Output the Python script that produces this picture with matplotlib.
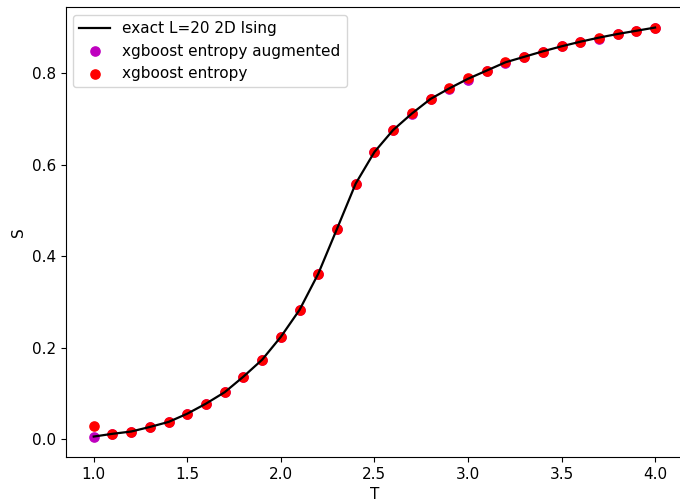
import numpy as np
import matplotlib
matplotlib.use("Agg")
import matplotlib.pyplot as plt

plt.rcParams['font.size'] = 11

# temperatures 1.0 .. 4.0 step 0.1
T = [1.0, 1.1, 1.2, 1.3, 1.4, 1.5, 1.6, 1.7, 1.8, 1.9,
     2.0, 2.1, 2.2, 2.3, 2.4, 2.5, 2.6, 2.7, 2.8, 2.9,
     3.0, 3.1, 3.2, 3.3, 3.4, 3.5, 3.6, 3.7, 3.8, 3.9, 4.0]

# exact entropy, L=20 2D Ising
S_exact = [0.006, 0.012, 0.017, 0.027, 0.038, 0.056, 0.078, 0.103, 0.137, 0.174,
           0.224, 0.283, 0.362, 0.460, 0.559, 0.628, 0.676, 0.712, 0.744, 0.767,
           0.788, 0.806, 0.824, 0.836, 0.848, 0.859, 0.869, 0.878, 0.886, 0.893, 0.900]

# xgboost entropy augmented
S_aug = [0.006, 0.012, 0.017, 0.027, 0.038, 0.056, 0.078, 0.103, 0.137, 0.174,
         0.224, 0.283, 0.362, 0.459, 0.559, 0.628, 0.676, 0.710, 0.744, 0.765,
         0.786, 0.806, 0.823, 0.836, 0.847, 0.859, 0.868, 0.876, 0.885, 0.892, 0.899]

# xgboost entropy
S_xgb = [0.030, 0.012, 0.017, 0.027, 0.038, 0.056, 0.078, 0.103, 0.137, 0.174,
         0.224, 0.283, 0.362, 0.460, 0.559, 0.628, 0.677, 0.714, 0.744, 0.767,
         0.789, 0.806, 0.825, 0.836, 0.847, 0.859, 0.868, 0.878, 0.886, 0.892, 0.900]

fig = plt.figure(figsize=(6.8, 5.01), dpi=100)
ax = fig.add_axes([0.0966, 0.0878, 0.908, 0.898])

ax.plot(T, S_exact, color='black', lw=1.6, label='exact L=20 2D Ising')
ax.scatter(T, S_aug, color='m', s=44, label='xgboost entropy augmented')
ax.scatter(T, S_xgb, color='red', s=44, label='xgboost entropy')

ax.set_xlabel('T')
ax.set_ylabel('S')
ax.spines['right'].set_visible(False)  # cut off at the edge in the original
ax.legend(loc=2)

fig.savefig('out.png', dpi=100)
plt.close()
